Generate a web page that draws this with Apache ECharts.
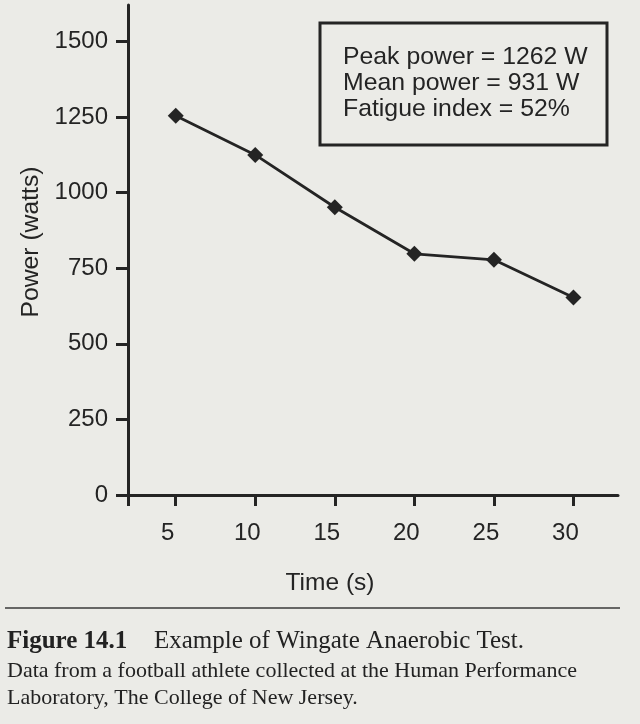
<!DOCTYPE html>
<html>
<head>
<meta charset="utf-8">
<script src="https://cdn.jsdelivr.net/npm/echarts@6/dist/echarts.min.js"></script>
<style>
html,body{margin:0;padding:0;background:#ebebe7;}
#c{width:640px;height:724px;}
</style>
</head>
<body>
<div id="c"></div>
<script>
// Data
var timeSec = [5, 10, 15, 20, 25, 30];
var powerW = [1255, 1125, 952, 798, 778, 653];
var xTickLabels = [5, 10, 15, 20, 25, 30];
var yTickLabels = [0, 250, 500, 750, 1000, 1250, 1500];
var statsLines = ['Peak power = 1262 W', 'Mean power = 931 W', 'Fatigue index = 52%'];
var captionTitle = 'Figure 14.1';
var captionLine1 = 'Example of Wingate Anaerobic Test.';
var captionLine2 = 'Data from a football athlete collected at the Human Performance';
var captionLine3 = 'Laboratory, The College of New Jersey.';

var ink = '#242424';
var sans = 'Liberation Sans, Arial, Helvetica, sans-serif';
var serif = 'Liberation Serif, Times New Roman, serif';

var chart = echarts.init(document.getElementById('c'), null, {renderer: 'canvas'});
chart.setOption({
  backgroundColor: '#ebebe7',
  animation: false,
  grid: {left: 128, right: 22, top: 5, bottom: 229, containLabel: false},
  xAxis: {
    type: 'value', min: 2, max: 32.8,
    name: 'Time (s)', nameLocation: 'middle', nameGap: 76,
    nameTextStyle: {fontFamily: sans, fontSize: 24.5, color: ink, padding: [0, 86, 0, 0]},
    axisLine: {show: true, lineStyle: {color: ink, width: 3}},
    axisTick: {show: true, length: 11, lineStyle: {color: ink, width: 3}, customValues: [2].concat(xTickLabels)},
    axisLabel: {fontFamily: sans, fontSize: 24, color: ink, margin: 26, padding: [0, 16, 0, 0], customValues: xTickLabels},
    splitLine: {show: false}
  },
  yAxis: {
    type: 'value', min: 0, max: 1621,
    name: 'Power (watts)', nameLocation: 'middle', nameGap: 76, nameRotate: 90,
    nameTextStyle: {fontFamily: sans, fontSize: 24.7, color: ink, padding: [0, 0, 0, 16]},
    axisLine: {show: true, lineStyle: {color: ink, width: 3}},
    axisTick: {show: true, length: 12, lineStyle: {color: ink, width: 3}, customValues: yTickLabels},
    axisLabel: {fontFamily: sans, fontSize: 24, color: ink, margin: 20, customValues: yTickLabels,
                formatter: function (v) { return String(v); }},
    splitLine: {show: false}
  },
  series: [{
    type: 'line',
    data: timeSec.map(function (t, i) { return [t, powerW[i]]; }),
    symbol: 'diamond', symbolSize: 16,
    itemStyle: {color: ink},
    lineStyle: {color: ink, width: 2.8},
    silent: true
  }],
  graphic: [
    {type: 'rect', shape: {x: 320, y: 23, width: 287, height: 122},
     style: {fill: 'none', stroke: ink, lineWidth: 3}},
    {type: 'text', left: 343, top: 44,
     style: {text: statsLines.join('\n'), font: '24.8px ' + sans, fill: ink, lineHeight: 26}},
    {type: 'line', shape: {x1: 5, y1: 608, x2: 620, y2: 608},
     style: {stroke: '#3a3a3a', lineWidth: 1.5}},
    {type: 'text', left: 7, top: 629,
     style: {text: captionTitle, font: 'bold 25px ' + serif, fill: '#222'}},
    {type: 'text', left: 154, top: 629,
     style: {text: captionLine1, font: '25px ' + serif, fill: '#222'}},
    {type: 'text', left: 7, top: 660,
     style: {text: captionLine2, font: '22px ' + serif, fill: '#222'}},
    {type: 'text', left: 7, top: 687.5,
     style: {text: captionLine3, font: '22px ' + serif, fill: '#222'}}
  ]
});
</script>
</body>
</html>
